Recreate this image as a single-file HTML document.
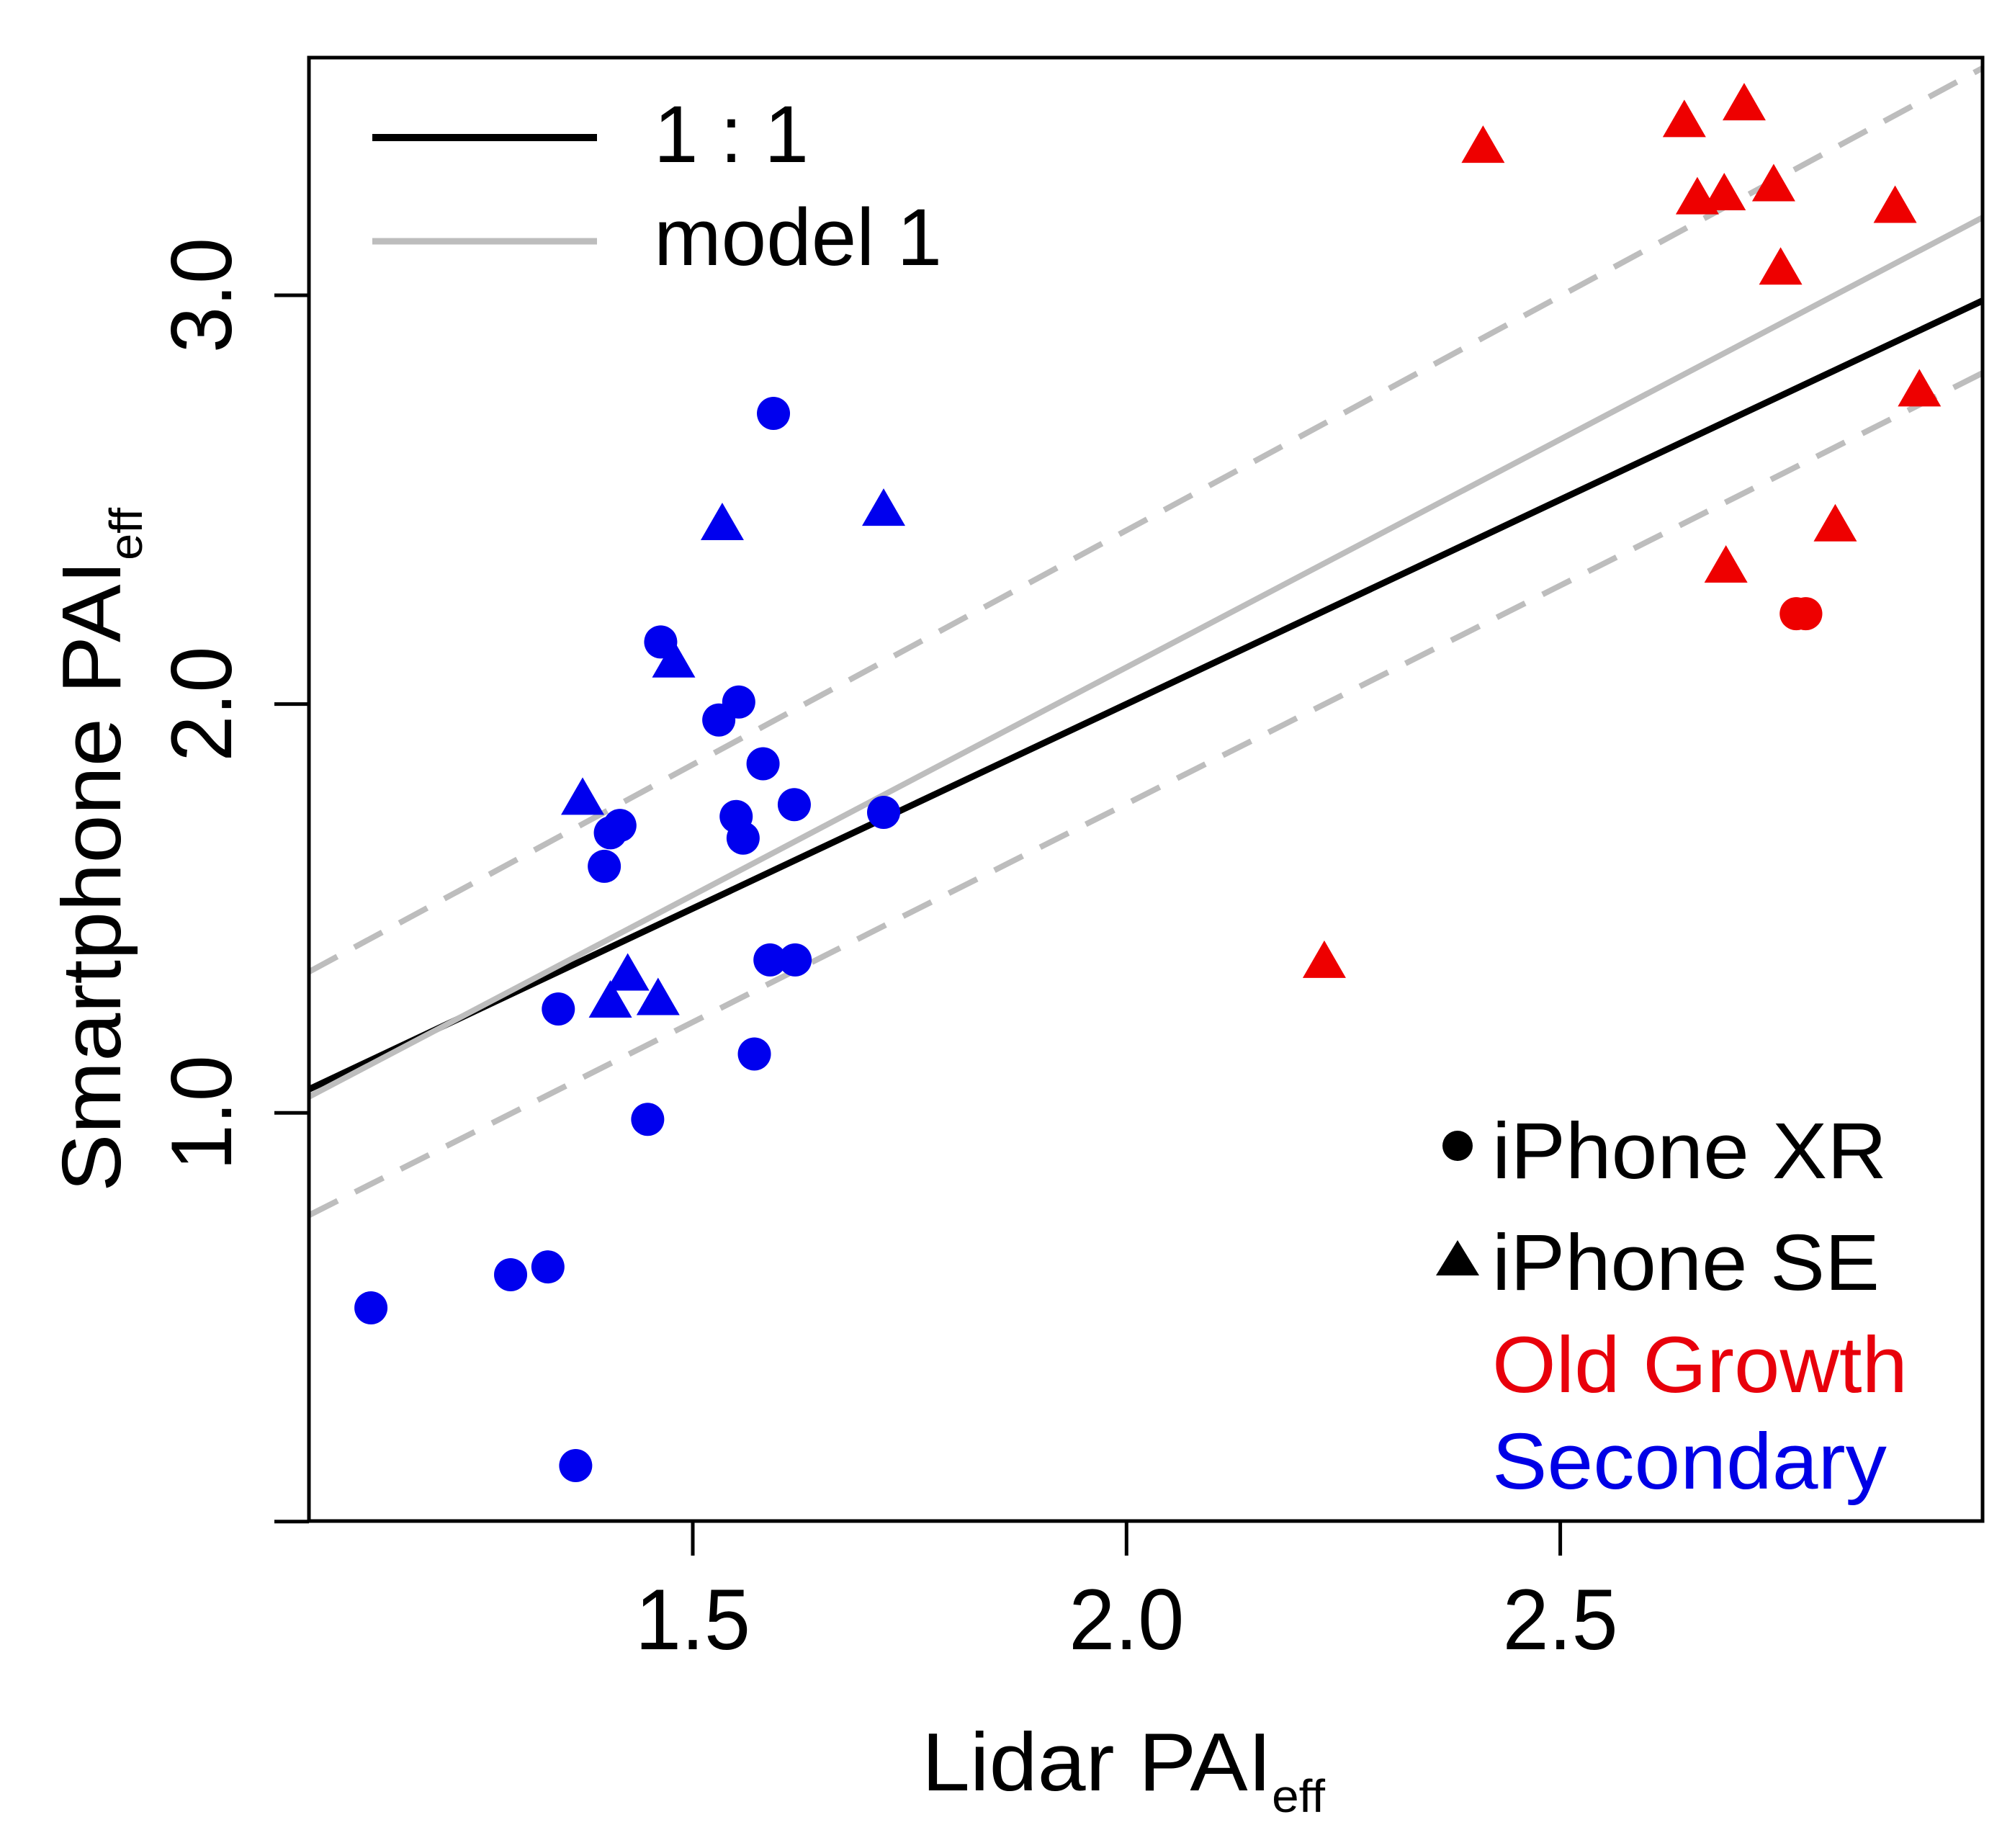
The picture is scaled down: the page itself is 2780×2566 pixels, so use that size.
<!DOCTYPE html>
<html><head><meta charset="utf-8"><style>
html,body{margin:0;padding:0;background:#fff;}
svg{display:block;font-family:"Liberation Sans",Arial,sans-serif;}
</style></head><body>
<svg id="chart" width="2780" height="2566" viewBox="0 0 2780 2566" xmlns="http://www.w3.org/2000/svg">
<rect x="0" y="0" width="2780" height="2566" fill="#fff"/>
<g id="lines"></g>
<g id="points"></g>
<rect x="429" y="80" width="2324" height="2032" fill="none" stroke="#000" stroke-width="5"/>
<g id="axes"></g>
<text x="1560" y="2486" font-size="114" text-anchor="middle" textLength="560" lengthAdjust="spacingAndGlyphs">Lidar PAI<tspan font-size="64" dy="30">eff</tspan></text>
<text transform="translate(167,1180) rotate(-90)" font-size="116" text-anchor="middle" textLength="950" lengthAdjust="spacingAndGlyphs">Smartphone PAI<tspan font-size="64" dy="30">eff</tspan></text>
<g>
<line x1="517" y1="191" x2="829" y2="191" stroke="#000" stroke-width="10"/>
<text x="908" y="225" font-size="112" textLength="215" lengthAdjust="spacingAndGlyphs">1 : 1</text>
<line x1="517" y1="335" x2="829" y2="335" stroke="#bdbdbd" stroke-width="9"/>
<text x="908" y="368" font-size="112" textLength="400" lengthAdjust="spacingAndGlyphs">model 1</text>
</g>
<g>
<circle cx="2024" cy="1591" r="21" fill="#000"/>
<text x="2072" y="1636" font-size="110" textLength="548" lengthAdjust="spacingAndGlyphs">iPhone XR</text>
<polygon points="2024,1722 1994,1771 2054,1771" fill="#000"/>
<text x="2072" y="1791" font-size="110" textLength="538" lengthAdjust="spacingAndGlyphs">iPhone SE</text>
<text x="2072" y="1933" font-size="110" fill="#e8000b" textLength="577" lengthAdjust="spacingAndGlyphs">Old Growth</text>
<text x="2072" y="2067" font-size="110" fill="#0000e6" textLength="548" lengthAdjust="spacingAndGlyphs">Secondary</text>
</g>
</svg>
<script>
const xTicks = [1.5, 2.0, 2.5];
const xTickLabels = ["1.5", "2.0", "2.5"];
const yTicks = [0.0, 1.0, 2.0, 3.0];
const yTickLabels = ["", "1.0", "2.0", "3.0"];
const xCircleBlue = [1.593,1.463,1.553,1.530,1.581,1.617,1.550,1.558,1.720,1.416,1.405,1.398,1.589,1.618,1.345,1.571,1.448,1.290,1.333,1.129,1.365];
const yCircleBlue = [2.711,2.152,2.005,1.961,1.854,1.754,1.725,1.672,1.735,1.703,1.685,1.603,1.374,1.374,1.254,1.144,0.984,0.604,0.623,0.523,0.137];
const xTriBlue = [1.534,1.720,1.478,1.373,1.425,1.405,1.460];
const yTriBlue = [2.438,2.473,2.102,1.766,1.336,1.270,1.276];
const xTriRed = [2.411,2.643,2.712,2.658,2.689,2.746,2.886,2.754,2.914,2.817,2.691,2.228];
const yTriRed = [3.361,3.424,3.465,3.235,3.245,3.267,3.214,3.063,2.765,2.435,2.334,1.367];
const xCircleRed = [2.772,2.783];
const yCircleRed = [2.221,2.221];
const lineSlope = [1.0, 1.115, 1.146, 1.068];
const lineIntercept = [0.0, -0.14, 0.133, -0.38];

const NS = "http://www.w3.org/2000/svg";
const X0 = 1.058, X1 = 2.987;
function xs(v){ return 962 + (v - 1.5) * 1204.6; }
function ys(v){ return 410 - (v - 3) * 567.6; }
function mk(tag, attrs, parent){ const e = document.createElementNS(NS, tag); for (const k in attrs) e.setAttribute(k, attrs[k]); parent.appendChild(e); return e; }

const axes = document.getElementById('axes');
xTicks.forEach((t, i) => {
  const l = mk('line', {x1: xs(t), x2: xs(t), y1: 2112, y2: 2160, stroke: '#000', 'stroke-width': 5}, axes);
  
  
  const tx = mk('text', {x: xs(t), y: 2290, 'font-size': 120, 'text-anchor': 'middle', textLength: 160, lengthAdjust: 'spacingAndGlyphs'}, axes);
  tx.textContent = xTickLabels[i];
  
  
});
yTicks.forEach((t, i) => {
  const l = mk('line', {x1: 381, x2: 429, y1: ys(t), y2: ys(t), stroke: '#000', 'stroke-width': 5}, axes);
  
  
  if (yTickLabels[i]) {
    const tx = mk('text', {transform: `translate(321,${ys(t)}) rotate(-90)`, 'font-size': 120, 'text-anchor': 'middle', textLength: 160, lengthAdjust: 'spacingAndGlyphs'}, axes);
    tx.textContent = yTickLabels[i];
    
    
  }
});

const lines = document.getElementById('lines');
const lineStyles = [
  {stroke: '#000', 'stroke-width': 9},
  {stroke: '#bdbdbd', 'stroke-width': 8},
  {stroke: '#bdbdbd', 'stroke-width': 8, 'stroke-dasharray': '44 27'},
  {stroke: '#bdbdbd', 'stroke-width': 8, 'stroke-dasharray': '44 27'}
];
const lineNames = ['one-to-one-line', 'model-1-line', 'upper-interval-line', 'lower-interval-line'];
lineSlope.forEach((m, i) => {
  const b = lineIntercept[i];
  let xa = X0, xb = X1;
  const yTop = 3.58;
  if (m * xb + b > yTop) xb = (yTop - b) / m;
  const a = Object.assign({x1: xs(xa), y1: ys(m * xa + b), x2: xs(xb), y2: ys(m * xb + b)}, lineStyles[i]);
  const l = mk('line', a, lines);
  
  
});

const pts = document.getElementById('points');
function circles(xa, ya, col, name){
  xa.forEach((v, i) => {
    const c = mk('circle', {cx: xs(v), cy: ys(ya[i]), r: 23, fill: col}, pts);
    
    
  });
}
function tris(xa, ya, col, name){
  xa.forEach((v, i) => {
    const cx = xs(v), cy = ys(ya[i]);
    const p = mk('polygon', {points: `${cx},${cy-31} ${cx-30},${cy+21} ${cx+30},${cy+21}`, fill: col}, pts);
    
    
  });
}
circles(xCircleBlue, yCircleBlue, '#0000ee', 'secondary-xr-point');
tris(xTriBlue, yTriBlue, '#0000ee', 'secondary-se-point');
tris(xTriRed, yTriRed, '#ee0000', 'old-growth-se-point');
circles(xCircleRed, yCircleRed, '#ee0000', 'old-growth-xr-point');
</script>
</body></html>
